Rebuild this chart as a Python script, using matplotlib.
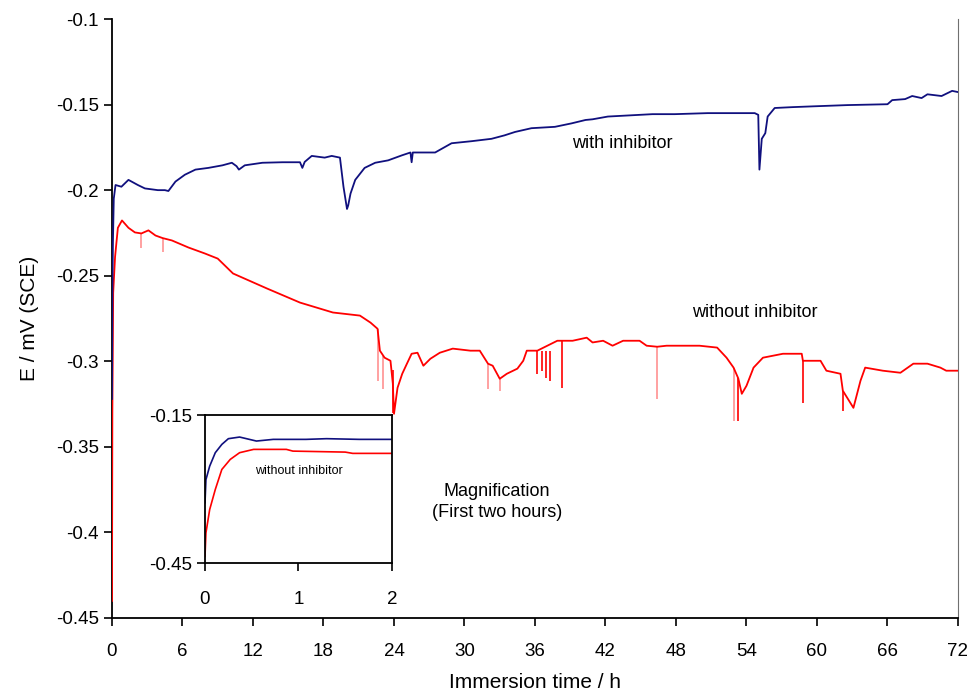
import matplotlib
matplotlib.use("Agg")
import matplotlib.pyplot as plt

plt.rcParams['font.family'] = ['Liberation Sans', 'DejaVu Sans']

# ---------------- data ----------------
t_with = [0, 0.03, 0.08, 0.15, 0.3, 0.8, 1.4, 2.2, 2.8, 3.9, 4.5, 4.8, 5.4, 6.2, 7.1,
          8.2, 9.4, 10.2, 10.6, 10.8, 11.3, 12.8, 14.5, 16.0, 16.2, 16.4, 17.0, 18.1,
          18.7, 19.4, 19.7, 20.0, 20.1, 20.3, 20.7, 21.5, 22.4, 23.5, 24.7, 25.4, 25.5,
          25.6, 26.0, 27.5, 28.9, 30.6, 32.3, 33.4, 34.3, 35.7, 37.7, 39.1, 40.3, 40.9,
          42.2, 46.0, 47.9, 50.7, 54.7, 55.0, 55.1, 55.3, 55.6, 55.8, 56.4, 57.9, 59.8,
          62.6, 66.0, 66.4, 67.5, 68.1, 68.9, 69.4, 70.6, 71.5, 72.0]
e_with = [-0.322, -0.26, -0.23, -0.205, -0.197, -0.198, -0.194, -0.197, -0.199, -0.2,
          -0.2, -0.2005, -0.195, -0.191, -0.188, -0.187, -0.1855, -0.184, -0.186, -0.188,
          -0.1855, -0.184, -0.1837, -0.1837, -0.187, -0.1835, -0.18, -0.181, -0.18,
          -0.181, -0.198, -0.211, -0.209, -0.202, -0.194, -0.187, -0.184, -0.1826,
          -0.1796, -0.178, -0.1837, -0.178, -0.178, -0.178, -0.1726, -0.1714, -0.17,
          -0.168, -0.166, -0.1638, -0.163, -0.161, -0.159, -0.1586, -0.157, -0.1556,
          -0.1556, -0.155, -0.155, -0.156, -0.188, -0.17, -0.1667, -0.157, -0.152,
          -0.1515, -0.151, -0.1503, -0.1498, -0.1474, -0.1468, -0.145, -0.1462, -0.144,
          -0.145, -0.142, -0.1427]

t_without = [0, 0.03, 0.1, 0.26, 0.5, 0.85, 1.4, 1.95, 2.5, 3.1, 3.7, 4.3, 5.1, 6.5, 7.9,
             9.0, 10.3, 13.2, 16.0, 18.8, 21.1, 22.0, 22.6, 22.8, 23.2, 23.7, 23.9, 24.0,
             24.3, 24.7, 25.1, 25.5, 26.0, 26.5, 27.1, 27.9, 29.0, 30.5, 31.3, 32.0, 32.4,
             33.0, 33.6, 34.5, 35.0, 35.3, 36.2, 37.9, 39.2, 40.4, 40.9, 41.8, 42.6, 43.5,
             44.9, 45.5, 46.4, 47.2, 50.0, 51.5, 52.3, 52.9, 53.3, 53.6, 54.0, 54.6, 55.4,
             57.1, 58.7, 58.8, 59.7, 60.3, 60.8, 62.0, 62.2, 63.1, 63.7, 64.1, 65.6, 67.1,
             68.2, 69.4, 70.5, 71.0, 72.0]
e_without = [-0.44, -0.33, -0.26, -0.239, -0.222, -0.2177, -0.222, -0.2247, -0.2253,
             -0.2235, -0.2265, -0.228, -0.2294, -0.2335, -0.237, -0.24, -0.2487, -0.2575,
             -0.2657, -0.2715, -0.2733, -0.2774, -0.281, -0.2938, -0.2979, -0.2997,
             -0.313, -0.3307, -0.3155, -0.3073, -0.3014, -0.2956, -0.295, -0.3026,
             -0.2985, -0.295, -0.2926, -0.2938, -0.2938, -0.3014, -0.3026, -0.3102,
             -0.3073, -0.3043, -0.2997, -0.2938, -0.2938, -0.288, -0.288, -0.2862,
             -0.289, -0.288, -0.2909, -0.288, -0.288, -0.2909, -0.2915, -0.2909, -0.2909,
             -0.292, -0.2979, -0.3037, -0.31, -0.319, -0.3143, -0.3037, -0.2979, -0.2956,
             -0.2956, -0.2997, -0.2997, -0.2997, -0.3055, -0.3073, -0.3172, -0.3272,
             -0.3114, -0.3037, -0.3055, -0.3067, -0.3014, -0.3014, -0.3037, -0.3055,
             -0.3055]

# short downward spikes of the curve without inhibitor (faint ones)
spike_light_t = [2.5, 4.3, 22.6, 23.1, 32.0, 33.0, 46.4, 52.9]
spike_light_top = [-0.2253, -0.228, -0.281, -0.297, -0.3014, -0.31, -0.2915, -0.3037]
spike_light_bottom = [-0.234, -0.2364, -0.3114, -0.316, -0.316, -0.3172, -0.3219, -0.3348]
# (strong ones)
spike_dark_t = [23.9, 36.2, 36.6, 36.9, 37.3, 38.3, 53.3, 58.8, 62.2]
spike_dark_top = [-0.305, -0.2938, -0.2938, -0.2938, -0.2938, -0.288, -0.31, -0.2997, -0.3172]
spike_dark_bottom = [-0.33, -0.3073, -0.3055, -0.3096, -0.3114, -0.3155, -0.3348, -0.3242,
                     -0.329]

# inset: first two hours
ti_with = [0, 0.01, 0.05, 0.11, 0.18, 0.25, 0.37, 0.55, 0.73, 1.08, 1.3, 1.65, 2.0]
ei_with = [-0.328, -0.281, -0.2537, -0.2264, -0.2096, -0.198, -0.1947, -0.2028, -0.1994,
           -0.1994, -0.198, -0.1994, -0.1994]
ti_without = [0, 0.01, 0.05, 0.11, 0.18, 0.27, 0.37, 0.52, 0.87, 0.94, 1.5, 1.58, 2.0]
ei_without = [-0.4366, -0.389, -0.3417, -0.301, -0.2604, -0.24, -0.2264, -0.2197, -0.2197,
              -0.2232, -0.2252, -0.2278, -0.2278]

x_ticks = [0, 6, 12, 18, 24, 30, 36, 42, 48, 54, 60, 66, 72]
y_ticks = [-0.1, -0.15, -0.2, -0.25, -0.3, -0.35, -0.4, -0.45]
y_ticklabels = ['-0.1', '-0.15', '-0.2', '-0.25', '-0.3', '-0.35', '-0.4', '-0.45']

BLUE = '#10107e'
RED = '#ff0000'
PINK = '#ff9a9a'

# ---------------- figure ----------------
fig = plt.figure(figsize=(9.78, 7.0), dpi=100)
ax = fig.add_axes([112 / 978, 1 - 618 / 700, (958 - 112) / 978, (618 - 19) / 700])

ax.vlines(spike_light_t, spike_light_bottom, spike_light_top, color=PINK, lw=1.3, zorder=2)
ax.vlines(spike_dark_t, spike_dark_bottom, spike_dark_top, color=RED, lw=1.2, zorder=3)
ax.plot(t_without, e_without, color=RED, lw=1.3, zorder=3)
ax.plot(t_with, e_with, color=BLUE, lw=1.3, zorder=4)

ax.set_xlim(0, 72)
ax.set_ylim(-0.45, -0.1)
ax.set_xticks(x_ticks)
ax.set_xticklabels([str(v) for v in x_ticks])
ax.set_yticks(y_ticks)
ax.set_yticklabels(y_ticklabels)
ax.tick_params(axis='both', direction='out', length=6, width=1.2, labelsize=13.5,
               colors='black')
ax.tick_params(axis='x', pad=12)
ax.spines['top'].set_visible(False)
ax.spines['right'].set_color('#707070')
ax.spines['left'].set_linewidth(1.3)
ax.spines['bottom'].set_linewidth(1.3)
ax.set_xlabel('Immersion time / h', fontsize=15, labelpad=9)
ax.set_ylabel('E / mV (SCE)', fontsize=15, labelpad=12)

ax.text(622 / 978, 1 - 143 / 700, 'with inhibitor', transform=fig.transFigure,
        ha='center', va='center', fontsize=13)
ax.text(755 / 978, 1 - 313 / 700, 'without inhibitor', transform=fig.transFigure,
        ha='center', va='center', fontsize=13)
ax.text(497 / 978, 1 - 502 / 700, 'Magnification\n(First two hours)',
        transform=fig.transFigure, ha='center', va='center', fontsize=13,
        linespacing=1.25)

# inset
axi = fig.add_axes([205 / 978, 1 - 563 / 700, (392 - 205) / 978, (563 - 415) / 700])
axi.plot(ti_without, ei_without, color=RED, lw=1.2)
axi.plot(ti_with, ei_with, color=BLUE, lw=1.2)
axi.set_xlim(0, 2)
axi.set_ylim(-0.45, -0.15)
axi.set_xticks([0, 1, 2])
axi.set_xticklabels(['0', '1', '2'])
axi.set_yticks([-0.15, -0.45])
axi.set_yticklabels(['-0.15', '-0.45'])
axi.tick_params(axis='both', direction='out', length=6, width=1.2, labelsize=13.5)
axi.tick_params(axis='x', pad=14)
for s in axi.spines.values():
    s.set_linewidth(1.3)
axi.text(0.5, 0.62, 'without inhibitor', transform=axi.transAxes, ha='center',
         va='center', fontsize=9)

fig.savefig('out.png', dpi=100)
